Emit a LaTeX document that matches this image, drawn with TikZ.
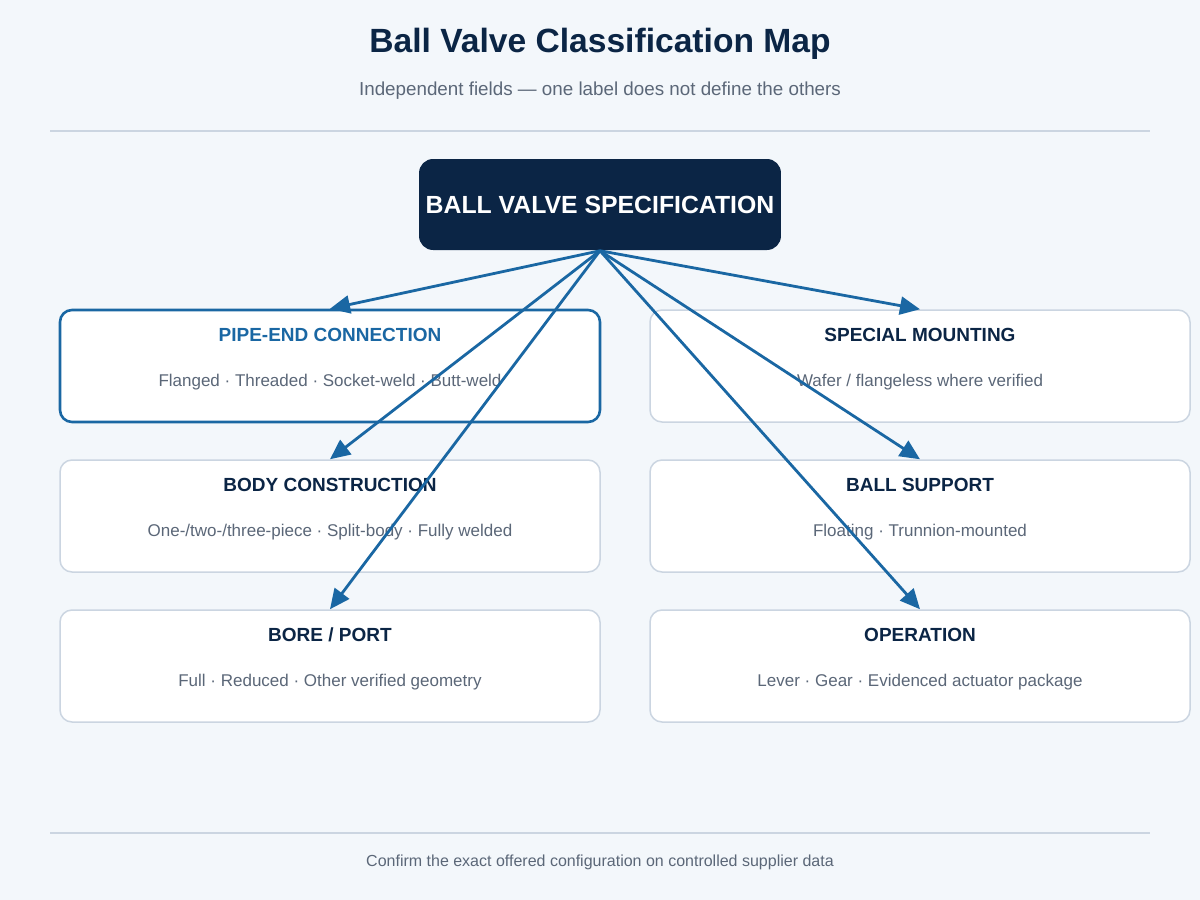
\documentclass[tikz,border=0pt]{standalone}
\usepackage{fontspec}
\setmainfont{Liberation Sans}
\usetikzlibrary{arrows.meta}
\definecolor{bgc}{HTML}{F3F7FB}
\definecolor{navy}{HTML}{0B2545}
\definecolor{linec}{HTML}{CBD5E1}
\definecolor{blu}{HTML}{1A67A3}
\definecolor{greyt}{HTML}{5B6778}
\tikzset{every picture/.style={line width=0.75pt}}
\tikzset{
  field/.style={draw=linec,fill=white,rounded corners=6pt,line width=0.75pt,minimum width=270pt,minimum height=56pt},
  ttl/.style={font=\bfseries\fontsize{9.5}{11}\selectfont,text=navy},
  sub/.style={font=\fontsize{8.5}{10}\selectfont,text=greyt},
  link/.style={-{Triangle[length=10pt,width=9pt]},draw=blu,line width=1.4pt}
}
\begin{document}
\begin{tikzpicture}[x=0.5pt,y=-0.5pt]
\fill[bgc] (0,0) rectangle (1200,900);
\useasboundingbox (0,0) rectangle (1200,900);
%
\node (title) at (600,44) {\bfseries\fontsize{16.8}{19}\selectfont\color{navy}Ball Valve Classification Map};
\node (subt) at (600,91) [sub,font=\fontsize{9.4}{11}\selectfont] {Independent fields — one label does not define the others};
\draw[linec] (50,131) -- (1150,131);
\draw[linec] (50,833) -- (1150,833);
\node (foot) at (600,862) [sub,font=\fontsize{8}{9}\selectfont] {Confirm the exact offered configuration on controlled supplier data};
%
\node (spec) at (600,204.5) [fill=navy,rounded corners=7pt,minimum width=180.5pt,minimum height=45.5pt,text=white,font=\bfseries\fontsize{12.4}{14}\selectfont] {BALL VALVE SPECIFICATION};
%
\node (pipe) at (330,366) [field,draw=blu,line width=1.3pt] {};
\node (mount) at (920,366) [field] {};
\node (body) at (330,516) [field] {};
\node (ball) at (920,516) [field] {};
\node (bore) at (330,666) [field] {};
\node (oper) at (920,666) [field] {};
%
\foreach \Box/\Col/\Title/\Text in {%
	pipe/blu/{PIPE-END CONNECTION}/{Flanged · Threaded · Socket-weld · Butt-weld},
	mount/navy/{SPECIAL MOUNTING}/{Wafer / flangeless where verified},
	body/navy/{BODY CONSTRUCTION}/{One-/two-/three-piece · Split-body · Fully welded},
	ball/navy/{BALL SUPPORT}/{Floating · Trunnion-mounted},
	bore/navy/{BORE / PORT}/{Full · Reduced · Other verified geometry},
	oper/navy/{OPERATION}/{Lever · Gear · Evidenced actuator package}%
    }
{
\node (\Box-t) at ([yshift=15.5pt]\Box.center) [ttl,text=\Col] {\Title};
\node (\Box-s) at ([yshift=-8pt]\Box.center) [sub] {\Text};
}
%
\foreach \Target in {pipe,mount,body,ball,bore,oper}
\draw[link] (spec.south) to (\Target.north);
\end{tikzpicture}
\end{document}
